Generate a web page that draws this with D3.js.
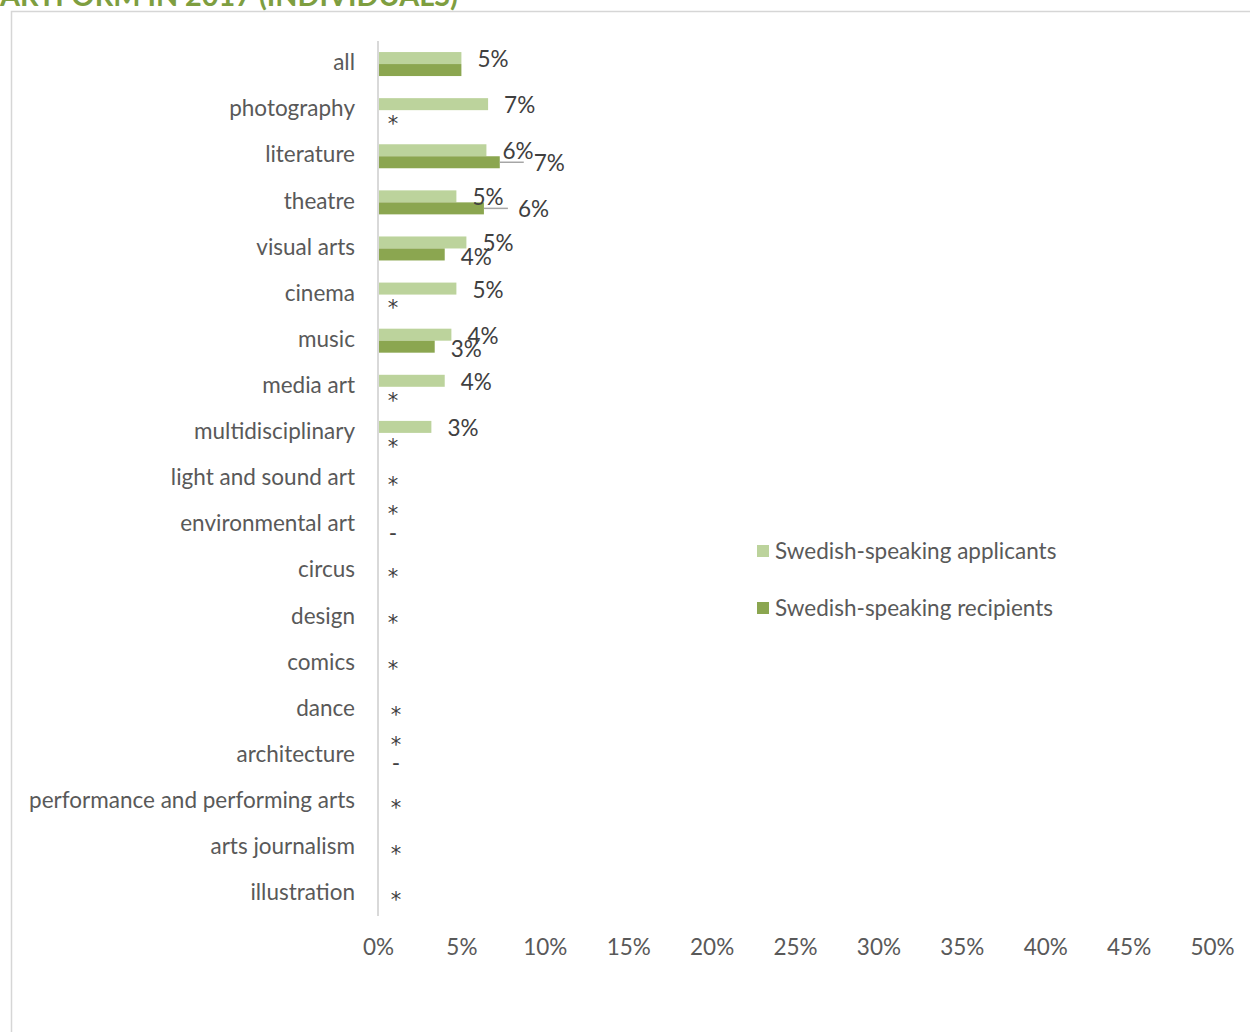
<!DOCTYPE html>
<html><head><meta charset="utf-8">
<script src="https://cdn.jsdelivr.net/npm/d3@7"></script>
<style>body{margin:0;background:#fff;overflow:hidden} svg{display:block}</style>
</head><body><svg id="c" width="1250" height="1032"></svg>
<script>
const title = "ARTFORM IN 2017 (INDIVIDUALS)";
const categories = ["all","photography","literature","theatre","visual arts","cinema","music","media art","multidisciplinary","light and sound art","environmental art","circus","design","comics","dance","architecture","performance and performing arts","arts journalism","illustration"];
const seriesNames = ["Swedish-speaking applicants","Swedish-speaking recipients"];
const applicants = [5.0,6.6,6.5,4.7,5.3,4.7,4.4,4.0,3.2,null,null,null,null,null,null,null,null,null,null];
const recipients = [5.0,null,7.3,6.35,4.0,null,3.4,null,null,null,null,null,null,null,null,null,null,null,null];
const applicantLabels = ["5%","7%","6%","5%","5%","5%","4%","4%","3%","*","*","*","*","*","*","*","*","*","*"];
const recipientLabels = ["","*","7%","6%","4%","*","3%","*","*","","-","","","","","-","","",""];
const xTicks = [0,5,10,15,20,25,30,35,40,45,50];

const FONT = "Lato, 'Open Sans', sans-serif";
const FS = 22.5;
const colApp = "#BCD39C", colRec = "#8BA650";
const svg = d3.select("#c").style("font-family", FONT);

// title (clipped at top) and frame
svg.append("text").attr("x", 0).attr("y", 6).attr("font-size", 28).attr("font-weight", 700)
  .attr("fill", "#7E9E40").attr("textLength", 458).attr("lengthAdjust","spacingAndGlyphs").text(title);
svg.append("rect").attr("x", 11.5).attr("y", 11.5).attr("width", 1400).attr("height", 1200)
  .attr("fill", "none").attr("stroke", "#d6d6d6").attr("stroke-width", 1.5);

const x = d3.scaleLinear().domain([0, 50]).range([378, 1212]);
const y = d3.scaleBand().domain(categories).range([40, 916]).padding(0);
const bh = 12;
const pc = c => y(c) + y.bandwidth()/2 + 1;

// category axis
const ya = svg.append("g").attr("transform", `translate(${x(0)},0)`)
  .call(d3.axisLeft(y).tickSize(0).tickPadding(23));
ya.select(".domain").attr("stroke", "#d9d9d9").attr("stroke-width", 2)
  .attr("d", `M0,41V916`);
ya.selectAll("text").attr("font-size", FS).attr("fill", "#595959").attr("font-family", FONT);

// value axis labels
const xa = svg.append("g").attr("transform", `translate(0,916)`)
  .call(d3.axisBottom(x).tickValues(xTicks).tickSize(0).tickPadding(23).tickFormat(d => d + "%"));
xa.select(".domain").remove();
xa.selectAll("text").attr("font-size", FS).attr("fill", "#595959").attr("font-family", FONT);

const rows = categories.map((c, i) => ({c, a: applicants[i], r: recipients[i], la: applicantLabels[i], lr: recipientLabels[i]}));

// bars
svg.append("g").selectAll("rect").data(rows.filter(d => d.a != null)).join("rect")
  .attr("x", x(0) + 1).attr("y", d => pc(d.c) - bh).attr("width", d => x(d.a) - x(0) - 1).attr("height", bh)
  .attr("fill", colApp);
svg.append("g").selectAll("rect").data(rows.filter(d => d.r != null)).join("rect")
  .attr("x", x(0) + 1).attr("y", d => pc(d.c)).attr("width", d => x(d.r) - x(0) - 1).attr("height", bh)
  .attr("fill", colRec);

// labels
const labels = [];
rows.forEach((d, i) => {
  const noBars = d.a == null && d.r == null;
  const sx = x(0) + (i > 13 ? 18 : 15);
  if (d.la) {
    if (d.a != null) labels.push({t: d.la, x: x(d.a) + 16, cy: pc(d.c) - bh/2 + 1.5, anchor: "start"});
    else labels.push({t: d.la, x: sx, cy: noBars && !d.lr ? pc(d.c) + 2 : pc(d.c) - 15, anchor: "middle"});
  }
  if (d.lr) {
    if (d.r != null) {
      const displaced = d.a != null && d.r > d.a;
      if (displaced) {
        labels.push({t: d.lr, x: x(d.r) + 34, cy: pc(d.c) + bh/2 + 1, anchor: "start", leader: [x(d.r), x(d.r) + 24, pc(d.c) + bh/2]});
      } else {
        labels.push({t: d.lr, x: x(d.r) + 16, cy: pc(d.c) + bh/2 + 3, anchor: "start"});
      }
    } else {
      labels.push({t: d.lr, x: sx, cy: noBars ? pc(d.c) + 9 : pc(d.c) + bh/2 + 4, anchor: "middle"});
    }
  }
});
const off = t => t === "*" ? 0.52 : t === "-" ? 0.3 : 0.33;
const lfs = t => t === "*" ? 21 : FS;
svg.append("g").selectAll("line").data(labels.filter(l => l.leader)).join("line")
  .attr("x1", l => l.leader[0]).attr("x2", l => l.leader[1]).attr("y1", l => l.leader[2]).attr("y2", l => l.leader[2])
  .attr("stroke", "#a6a6a6").attr("stroke-width", 1.5);
svg.append("g").selectAll("text").data(labels).join("text")
  .attr("x", l => l.x).attr("y", l => l.cy + off(l.t) * lfs(l.t))
  .attr("font-family", l => l.t === "*" ? "'DejaVu Sans', sans-serif" : FONT)
  .attr("text-anchor", l => l.anchor).attr("font-size", l => lfs(l.t)).attr("fill", "#404040").text(l => l.t);

// legend
const lg = svg.append("g").selectAll("g").data(seriesNames).join("g")
  .attr("transform", (d, i) => `translate(757,${545 + i * 57})`);
lg.append("rect").attr("width", 12).attr("height", 12).attr("fill", (d, i) => i ? colRec : colApp);
lg.append("text").attr("x", 18).attr("y", 6 + 0.36 * FS).attr("font-size", FS).attr("fill", "#595959").text(d => d);
</script></body></html>
